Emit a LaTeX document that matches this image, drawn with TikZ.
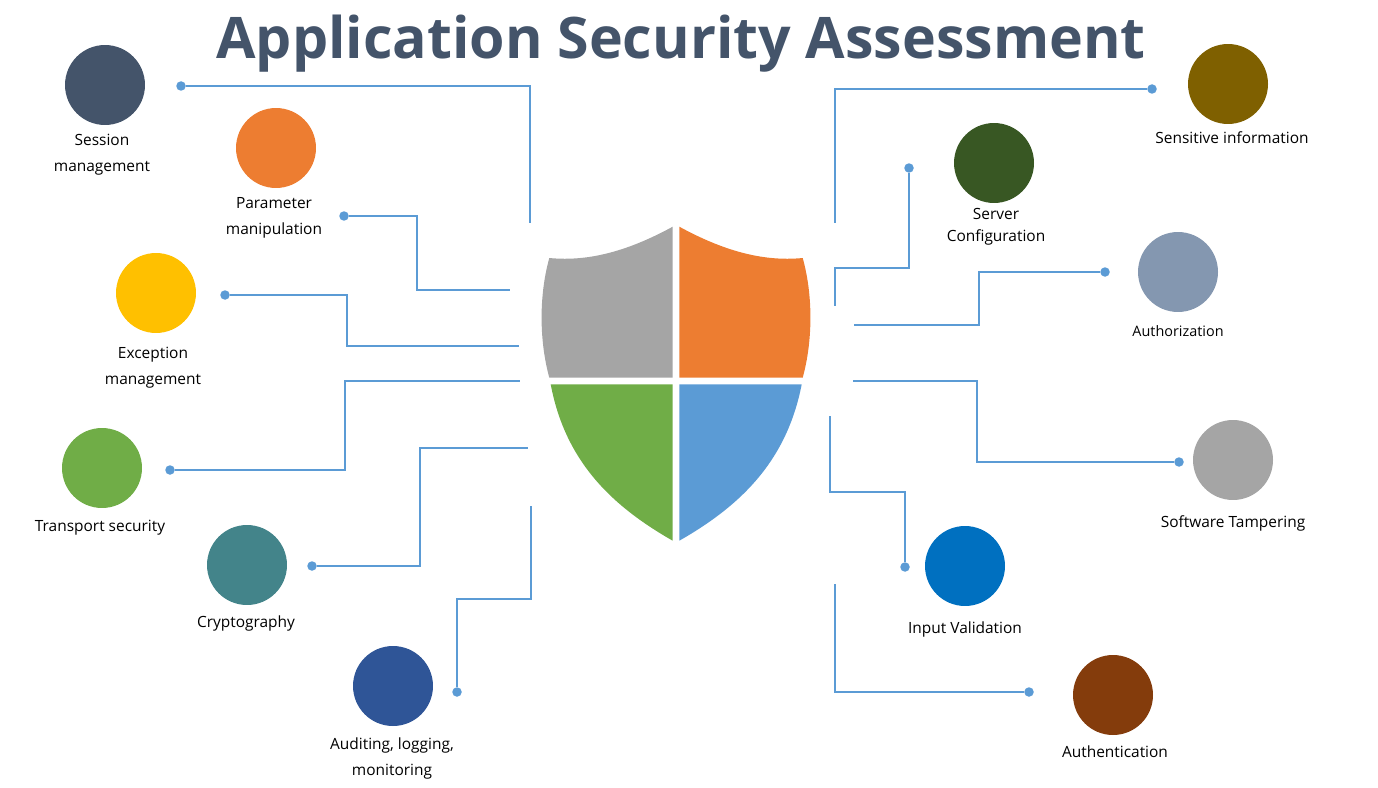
\documentclass[tikz,border=0pt]{standalone}
\usepackage{fontspec}
\setmainfont{Open Sans}
\definecolor{slatec}{HTML}{44546A}
\definecolor{orangec}{HTML}{ED7D31}
\definecolor{goldc}{HTML}{FFC000}
\definecolor{greenc}{HTML}{70AD47}
\definecolor{tealc}{HTML}{43848A}
\definecolor{navyc}{HTML}{2F5597}
\definecolor{olivec}{HTML}{7F6000}
\definecolor{forestc}{HTML}{385723}
\definecolor{steelc}{HTML}{8497B0}
\definecolor{greyc}{HTML}{A5A5A5}
\definecolor{royalc}{HTML}{0070C0}
\definecolor{brownc}{HTML}{843C0C}
\definecolor{wirec}{HTML}{5B9BD5}
\tikzset{
  topic/.style={circle, minimum size=1.6cm, inner sep=0pt},
  pin/.style={circle, minimum size=0.19cm, inner sep=0pt, fill=wirec},
  wire/.style={draw=wirec, line width=0.026cm},
  lbl/.style={font=\fontsize{8.8}{14.8}\selectfont, align=center, inner sep=0pt}
}
\begin{document}
\begin{tikzpicture}[x=0.02cm, y=-0.02cm]
        \useasboundingbox (0,0) rectangle (1378,787);
        \node (title) at (681,44) [font=\fontsize{32.6}{36}\bfseries\selectfont, text=slatec] {Application Security Assessment};
        \fill[greyc] (672.7,226.7) .. controls (630,250) and (590,262) .. (549.3,258) .. controls (539,295) and (539,340) .. (549.3,377.7) -- (672.7,377.7) -- cycle;
        \fill[orangec] (679.3,226.7) .. controls (722,250) and (762,262) .. (802.7,258) .. controls (813,295) and (813,340) .. (802.7,377.7) -- (679.3,377.7) -- cycle;
        \fill[greenc] (550.7,384.3) -- (672.7,384.3) -- (672.7,540.7) .. controls (610,505) and (565,460) .. (550.7,384.3) -- cycle;
        \fill[wirec] (801.7,384.3) -- (679.3,384.3) -- (679.3,540.7) .. controls (742,505) and (787,460) .. (801.7,384.3) -- cycle;
        \node[topic, fill=slatec] (session) at (105,85) {};
        \node[topic, fill=orangec] (param) at (276,148) {};
        \node[topic, fill=goldc] (except) at (156,293) {};
        \node[topic, fill=greenc] (transport) at (102,468) {};
        \node[topic, fill=tealc] (crypto) at (247,565) {};
        \node[topic, fill=navyc] (audit) at (393,686) {};
        \node[topic, fill=olivec] (sensitive) at (1228,84) {};
        \node[topic, fill=forestc] (server) at (994,163) {};
        \node[topic, fill=steelc] (authz) at (1178,272) {};
        \node[topic, fill=greyc] (tamper) at (1233,460) {};
        \node[topic, fill=royalc] (input) at (965,566) {};
        \node[topic, fill=brownc] (authn) at (1113,695) {};
        \node[lbl] (session_l) at (102,155) {Session\\management};
        \node[lbl] (param_l) at (274,218) {Parameter\\manipulation};
        \node[lbl] (except_l) at (153,368) {Exception\\management};
        \node[lbl] (transport_l) at (100,528) {Transport security};
        \node[lbl] (crypto_l) at (246,623) {Cryptography};
        \node[lbl] (audit_l) at (392,758) {Auditing, logging,\\monitoring};
        \node[lbl] (sensitive_l) at (1232,138) {Sensitive information};
        \node[lbl, font=\fontsize{8.8}{12.5}\selectfont] (server_l) at (996,227) {Server\\Configuration};
        \node[lbl, font=\fontsize{8.2}{12}\selectfont] (authz_l) at (1178,331) {Authorization};
        \node[lbl] (tamper_l) at (1233,523) {Software Tampering};
        \node[lbl] (input_l) at (965,629) {Input Validation};
        \node[lbl] (authn_l) at (1115,752) {Authentication};
        \node[pin] (p1) at (181,86) {};
        \node[pin] (p2) at (344,216) {};
        \node[pin] (p3) at (225,295) {};
        \node[pin] (p4) at (170,470) {};
        \node[pin] (p5) at (312,566) {};
        \node[pin] (p6) at (457,692) {};
        \node[pin] (p7) at (1152,89) {};
        \node[pin] (p8) at (909,168) {};
        \node[pin] (p9) at (1105,272) {};
        \node[pin] (p10) at (1179,462) {};
        \node[pin] (p11) at (905,567) {};
        \node[pin] (p12) at (1029,692) {};
        \coordinate (e1) at (530,223);
        \coordinate (e2) at (510,290);
        \coordinate (e3) at (519,346);
        \coordinate (e4) at (520,381);
        \coordinate (e5) at (528,448);
        \coordinate (e6) at (531,506);
        \coordinate (e7) at (835,223);
        \coordinate (e8) at (835,306);
        \coordinate (e9) at (854,325);
        \coordinate (e10) at (853,381);
        \coordinate (e11) at (830,416);
        \coordinate (e12) at (835,584);
        \draw[wire] (p1) -| (e1);
        \draw[wire] (p2) -- (417,216) |- (e2);
        \draw[wire] (p3) -- (347,295) |- (e3);
        \draw[wire] (p4) -- (345,470) |- (e4);
        \draw[wire] (p5) -- (420,566) |- (e5);
        \draw[wire] (p6) |- (531,599) -- (e6);
        \draw[wire] (p7) -| (e7);
        \draw[wire] (p8) |- (835,268) -- (e8);
        \draw[wire] (p9) -- (979,272) |- (e9);
        \draw[wire] (p10) -- (977,462) |- (e10);
        \draw[wire] (p11) |- (830,492) -- (e11);
        \draw[wire] (p12) -| (e12);
    \end{tikzpicture}
\end{document}
